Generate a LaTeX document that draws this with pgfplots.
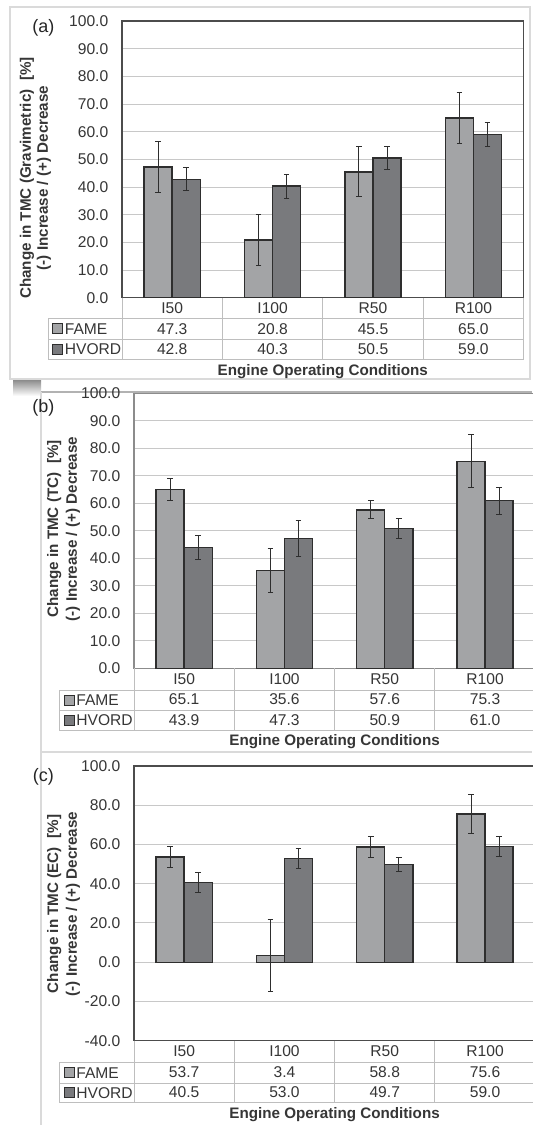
\documentclass[border=0pt]{standalone}
\usepackage{pgfplots}
\pgfplotsset{compat=1.18}
\usepackage{fontspec}
\setmainfont{Liberation Sans}
\definecolor{fameC}{HTML}{A3A4A6}
\definecolor{hvoC}{HTML}{797A7D}
\definecolor{edgeC}{HTML}{2E2E2E}
\definecolor{gridC}{HTML}{C8C8C8}
\definecolor{tabC}{HTML}{BEBEBE}
\definecolor{txtC}{HTML}{363636}
\definecolor{frameC}{HTML}{DADADA}
\newcommand{\fs}{\fontsize{7.8}{10.3}\selectfont}
\newcommand{\fb}{\fontsize{7.6}{10.3}\selectfont\bfseries}

\pgfplotsset{
  panel/.style={
    scale only axis,
    width=200.6pt,
    xmin=-0.5, xmax=3.5,
    ybar=0pt, bar width=0.28,
    xtick={0,1,2,3},
    major tick length=0pt,
    ymajorgrids, grid style={gridC, line width=0.5pt},
    axis line style={#1, line width=0.7pt},
    tick label style={font=\fs, text=txtC},
    yticklabel style={anchor=east, inner sep=0pt, xshift=-6.7pt},
    xticklabel style={anchor=base, inner sep=0pt, align=center, yshift=-28.5pt, font=\fs},
    yticklabel={\pgfmathprintnumber[fixed, fixed zerofill, precision=1, assume math mode=true]{\tick}},
    error bars/y dir=both, error bars/y explicit,
    error bars/error bar style={edgeC, line width=0.5pt},
    error bars/error mark options={rotate=90, edgeC, mark size=1.4pt, line width=0.5pt},
    clip=false,
  },
  fame/.style={fill=fameC, draw=edgeC, line width=0.7pt},
  hvo/.style={fill=hvoC, draw=edgeC, line width=0.7pt},
}

\begin{document}
\begin{tikzpicture}
% panel frames
\begin{scope}[x=0.5pt,y=-0.5pt]
\fill[white] (0,0) rectangle (532,1125);
\draw[frameC, line width=0.6pt] (10,7) rectangle (530,379);
\shade[top color=black!45, bottom color=white] (13,380) rectangle (41,396);
\draw[black!30, line width=0.6pt] (41,392) -- (532,392);
\draw[frameC, line width=0.6pt] (41,392) -- (41,1125);
\draw[frameC, line width=0.6pt] (41,752) -- (532,752);
\end{scope}

%================ (a)
\begin{axis}[panel=black!70, at={(61pt,-148.85pt)}, anchor=south west,
  width=200.8pt, height=138.35pt, ymin=0, ymax=100, ytick={0,10,...,100},
  xticklabels={{I50\\47.3\\42.8},{I100\\20.8\\40.3},{R50\\45.5\\50.5},{R100\\65.0\\59.0}}]
\addplot[fame] coordinates {(0,47.3) +- (0,9.1) (1,20.8) +- (0,9.1) (2,45.5) +- (0,9.1) (3,65.0) +- (0,9.1)};
\addplot[hvo] coordinates {(0,42.8) +- (0,4.2) (1,40.3) +- (0,4.3) (2,50.5) +- (0,4.2) (3,59.0) +- (0,4.2)};
\end{axis}
\begin{scope}[x=0.5pt,y=-0.5pt]
\begin{scope}[tabC, line width=0.5pt]
\foreach \x in {122,222.4,322.8,423.2,523.6} \draw (\x,297.7) -- (\x,359.3);
\foreach \y in {318.3,339,359.3} \draw (48,\y) -- (523.6,\y);
\draw (48,318.3) -- (48,359.3);
\end{scope}
\draw[edgeC, fill=fameC, line width=0.5pt] (52.6,323.6) rectangle (62.6,333.6);
\draw[edgeC, fill=hvoC, line width=0.5pt] (52.6,344.2) rectangle (62.6,354.2);
\node[anchor=base west, inner sep=0, font=\fs, text=txtC] at (64.5,334) {FAME};
\node[anchor=base west, inner sep=0, font=\fs, text=txtC] at (64.5,354.6) {HVORD};
\node[anchor=base, inner sep=0, font=\fb, text=txtC] at (322.8,375.7) {Engine Operating Conditions};
\node[rotate=90, inner sep=0, font=\fb, text=txtC] at (27,178) {Change in TMC (Gravimetric)\ \ [\%]};
\node[rotate=90, inner sep=0, font=\fb, text=txtC] at (44,178) {(-) Increase / (+) Decrease};
\node[inner sep=0, font=\fontsize{9}{10}\selectfont, text=black!85] at (43.3,28.3) {(a)};
\end{scope}

%================ (b)
\begin{axis}[panel=black!45, at={(67pt,-334.15pt)}, anchor=south west,
  height=137.5pt, ymin=0, ymax=100, ytick={0,10,...,100},
  xticklabels={{I50\\65.1\\43.9},{I100\\35.6\\47.3},{R50\\57.6\\50.9},{R100\\75.3\\61.0}}]
\addplot[fame] coordinates {(0,65.1) +- (0,4.1) (1,35.6) +- (0,8.0) (2,57.6) +- (0,3.3) (3,75.3) +- (0,9.6)};
\addplot[hvo] coordinates {(0,43.9) +- (0,4.5) (1,47.3) +- (0,6.6) (2,50.9) +- (0,3.6) (3,61.0) +- (0,4.9)};
\end{axis}
\begin{scope}[x=0.5pt,y=-0.5pt]
\begin{scope}[tabC, line width=0.5pt]
\foreach \x in {134,234.3,334.6,434.9,535.2} \draw (\x,668.3) -- (\x,730);
\foreach \y in {690,710,730} \draw (59.4,\y) -- (535.2,\y);
\draw (59.4,690) -- (59.4,730);
\end{scope}
\draw[edgeC, fill=fameC, line width=0.5pt] (64.5,695) rectangle (74.5,705);
\draw[edgeC, fill=hvoC, line width=0.5pt] (64.5,715) rectangle (74.5,725);
\node[anchor=base west, inner sep=0, font=\fs, text=txtC] at (76,705.4) {FAME};
\node[anchor=base west, inner sep=0, font=\fs, text=txtC] at (76,725.4) {HVORD};
\node[anchor=base, inner sep=0, font=\fb, text=txtC] at (334.6,745.6) {Engine Operating Conditions};
\node[rotate=90, inner sep=0, font=\fb, text=txtC] at (54.3,529) {Change in TMC (TC)\ \ [\%]};
\node[rotate=90, inner sep=0, font=\fb, text=txtC] at (73,529) {(-) Increase / (+) Decrease};
\node[inner sep=0, font=\fontsize{9}{10}\selectfont, text=black!85] at (43.3,407.5) {(b)};
\end{scope}

%================ (c)
\begin{axis}[panel=black!70, at={(67pt,-520.35pt)}, anchor=south west,
  height=137.35pt, ymin=-40, ymax=100, ytick={-40,-20,...,100},
  xticklabels={{I50\\53.7\\40.5},{I100\\3.4\\53.0},{R50\\58.8\\49.7},{R100\\75.6\\59.0}}]
\addplot[fame] coordinates {(0,53.7) +- (0,5.3) (1,3.4) +- (0,18.5) (2,58.8) +- (0,5.3) (3,75.6) +- (0,9.8)};
\addplot[hvo] coordinates {(0,40.5) +- (0,5.1) (1,53.0) +- (0,5.0) (2,49.7) +- (0,3.5) (3,59.0) +- (0,5.2)};
\end{axis}
\begin{scope}[x=0.5pt,y=-0.5pt]
\begin{scope}[tabC, line width=0.5pt]
\foreach \x in {134,234.3,334.6,434.9,535.2} \draw (\x,1040.7) -- (\x,1102.3);
\foreach \y in {1062.3,1083.3,1102.3} \draw (59.4,\y) -- (535.2,\y);
\draw (59.4,1062.3) -- (59.4,1102.3);
\end{scope}
\draw[edgeC, fill=fameC, line width=0.5pt] (64.5,1067.8) rectangle (74.5,1077.8);
\draw[edgeC, fill=hvoC, line width=0.5pt] (64.5,1087.8) rectangle (74.5,1097.8);
\node[anchor=base west, inner sep=0, font=\fs, text=txtC] at (76,1078.2) {FAME};
\node[anchor=base west, inner sep=0, font=\fs, text=txtC] at (76,1098.2) {HVORD};
\node[anchor=base, inner sep=0, font=\fb, text=txtC] at (334.6,1118) {Engine Operating Conditions};
\node[rotate=90, inner sep=0, font=\fb, text=txtC] at (54.3,904) {Change in TMC (EC)\ \ [\%]};
\node[rotate=90, inner sep=0, font=\fb, text=txtC] at (73,904) {(-) Increase / (+) Decrease};
\node[inner sep=0, font=\fontsize{9}{10}\selectfont, text=black!85] at (43.3,777) {(c)};
\end{scope}

\pgfresetboundingbox
\path[use as bounding box] (0,0) rectangle (266pt,-562.5pt);
\end{tikzpicture}
\end{document}
